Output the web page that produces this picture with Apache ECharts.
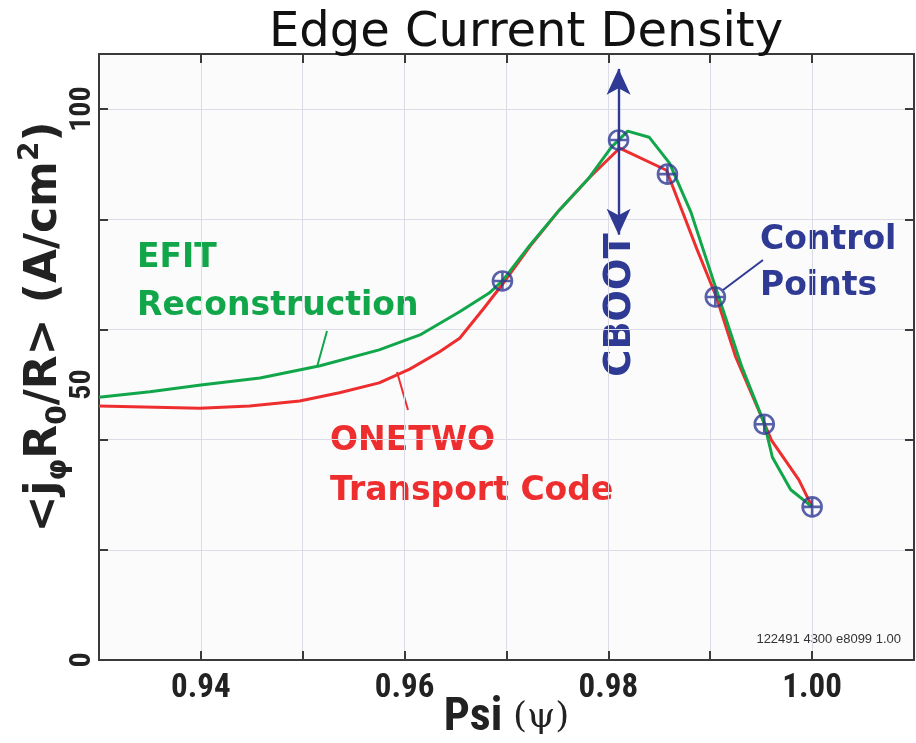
<!DOCTYPE html>
<html>
<head>
<meta charset="utf-8">
<script src="https://cdn.jsdelivr.net/npm/echarts@6/dist/echarts.min.js"></script>
<style>
  html, body { margin: 0; padding: 0; background: #ffffff; }
  #chart { width: 916px; height: 743px; }
</style>
</head>
<body>
<div id="chart"></div>
<script>
// Edge current density profiles versus normalized poloidal flux
const efitPsi = [0.9300, 0.9350, 0.9400, 0.9458, 0.9517, 0.9575, 0.9615, 0.9654, 0.9683, 0.9696, 0.9723, 0.9752, 0.9781, 0.9803, 0.9819, 0.9840, 0.9860, 0.9881, 0.9906, 0.9931, 0.9953, 0.9961, 0.9979, 1.0000];
const efitJ   = [47.7, 48.7, 49.9, 51.2, 53.4, 56.3, 59.0, 63.2, 66.6, 68.8, 75.3, 81.7, 87.5, 93.1, 96.0, 94.9, 90.2, 81.3, 67.2, 53.2, 43.0, 36.8, 30.9, 27.8];

const onetwoPsi = [0.9300, 0.9399, 0.9448, 0.9497, 0.9536, 0.9575, 0.9605, 0.9634, 0.9654, 0.9678, 0.9696, 0.9723, 0.9752, 0.9781, 0.9811, 0.9857, 0.9886, 0.9906, 0.9925, 0.9953, 0.9960, 0.9987, 1.0000];
const onetwoJ   = [46.1, 45.7, 46.1, 47.0, 48.5, 50.3, 52.8, 55.9, 58.4, 63.9, 68.2, 75.1, 81.7, 87.5, 92.9, 88.9, 75.0, 65.9, 55.0, 43.0, 39.9, 32.7, 27.8];

const controlPsi = [0.9696, 0.9810, 0.9858, 0.9905, 0.9953, 1.0000];
const controlJ   = [68.8, 94.4, 88.2, 65.9, 42.8, 27.8];

// CBOOT adjustment range at the second control point
const cbootPsi = 0.9810;
const cbootRange = [77.2, 107.3];

const xTickLabels = ['0.94', '0.96', '0.98', '1.00'];
const yTickLabels = ['0', '50', '100'];

const BLUE = '#2e3a94';
const GREEN = '#12a64a';
const RED = '#ee2e2e';
const AXIS = '#3a3a3a';
const GRIDC = '#dcdce6';
const BOLD = 'DejaVu Sans';
const NARROW = '"Liberation Sans Narrow", "Roboto Condensed", Roboto, sans-serif';

const pairs = (xs, ys) => xs.map((x, i) => [x, ys[i]]);

const chart = echarts.init(document.getElementById('chart'), null, { renderer: 'canvas' });

const markerPath = 'path://M0,10 A10,10 0 1,1 20,10 A10,10 0 1,1 0,10 Z M10,0 L10,20 M0,10 L20,10';

const option = {
  backgroundColor: '#ffffff',
  animation: false,
  title: {
    text: 'Edge Current Density',
    left: 264,
    top: 5,
    textStyle: { fontFamily: BOLD, fontSize: 48, fontWeight: 'normal', color: '#111' }
  },
  grid: {
    left: 99, right: 2, top: 54, bottom: 83,
    containLabel: false,
    outerBoundsMode: 'none',
    show: true, backgroundColor: '#fbfbfc', borderWidth: 0
  },
  xAxis: [
    {
      type: 'value', min: 0.93, max: 1.01, interval: 0.01, position: 'bottom',
      axisLine: { show: true, onZero: false, lineStyle: { color: AXIS, width: 2 } },
      axisTick: { show: true, inside: true, length: 9, lineStyle: { color: AXIS, width: 2 } },
      splitLine: { show: true, lineStyle: { color: GRIDC, width: 1 } },
      axisLabel: {
        margin: 12,
        fontFamily: NARROW, fontWeight: 'bold', fontSize: 33, color: '#222',
        showMinLabel: false, showMaxLabel: false,
        formatter: v => {
          const s = v.toFixed(2);
          return xTickLabels.indexOf(s) >= 0 ? s : '';
        }
      },
      name: '{b|Psi }{g|(ψ)}',
      nameLocation: 'middle',
      nameGap: 37,
      nameMoveOverlap: false,
      nameTextStyle: {
        rich: {
          b: { fontFamily: NARROW, fontWeight: 'bold', fontSize: 46, lineHeight: 42, color: '#222' },
          g: { fontFamily: '"DejaVu Serif", serif', fontSize: 36, lineHeight: 42, color: '#222' }
        }
      }
    },
    {
      type: 'value', min: 0.93, max: 1.01, interval: 0.01, position: 'top',
      axisLine: { show: true, onZero: false, lineStyle: { color: AXIS, width: 2 } },
      axisTick: { show: true, inside: true, length: 9, lineStyle: { color: AXIS, width: 2 } },
      splitLine: { show: false },
      axisLabel: { show: false }
    }
  ],
  yAxis: [
    {
      type: 'value', min: 0, max: 110, interval: 20, position: 'left',
      axisLine: { show: true, onZero: false, lineStyle: { color: AXIS, width: 2 } },
      axisTick: { show: true, inside: true, length: 9, lineStyle: { color: AXIS, width: 2 } },
      splitLine: { show: true, lineStyle: { color: GRIDC, width: 1 } },
      axisLabel: { show: false }
    },
    {
      type: 'value', min: 0, max: 110, interval: 50, position: 'left',
      axisLine: { show: false }, axisTick: { show: false }, splitLine: { show: false },
      axisLabel: {
        rotate: 90, margin: 2,
        fontFamily: NARROW, fontWeight: 'bold', fontSize: 30, color: '#222',
        showMaxLabel: false,
        formatter: v => (yTickLabels.indexOf(String(v)) >= 0 ? String(v) : '')
      }
    },
    {
      type: 'value', min: 0, max: 110, interval: 20, position: 'right',
      axisLine: { show: true, onZero: false, lineStyle: { color: AXIS, width: 2 } },
      axisTick: { show: true, inside: true, length: 9, lineStyle: { color: AXIS, width: 2 } },
      splitLine: { show: false },
      axisLabel: { show: false }
    }
  ],
  series: [
    {
      name: 'ONETWO', type: 'line', data: pairs(onetwoPsi, onetwoJ),
      showSymbol: false, lineStyle: { color: RED, width: 3 }, z: 3
    },
    {
      name: 'EFIT', type: 'line', data: pairs(efitPsi, efitJ),
      showSymbol: false, lineStyle: { color: GREEN, width: 3 }, z: 4
    },
    {
      name: 'Control Points', type: 'scatter', data: pairs(controlPsi, controlJ),
      symbol: markerPath, symbolSize: 19,
      itemStyle: { color: 'rgba(0,0,0,0)', borderColor: BLUE, borderWidth: 2.6 },
      z: 6,
      markLine: {
        silent: true,
        symbol: ['arrow', 'arrow'],
        symbolSize: [18, 26],
        label: { show: false },
        lineStyle: { color: BLUE, width: 2.4, type: 'solid' },
        data: [[{ coord: [cbootPsi, cbootRange[1]] }, { coord: [cbootPsi, cbootRange[0]] }]]
      }
    }
  ],
  graphic: [
    {
      type: 'text', x: 45, y: 327, rotation: Math.PI / 2,
      style: {
        text: '{a|<j}{s|φ}{a|R}{s|0}{a|/R> (A/cm}{p|2}{a|)}',
        align: 'center', verticalAlign: 'middle',
        rich: {
          a: { fontFamily: BOLD, fontWeight: 'bold', fontSize: 44, lineHeight: 56, fill: '#222' },
          s: { fontFamily: BOLD, fontWeight: 'bold', fontSize: 28, lineHeight: 28, verticalAlign: 'bottom', fill: '#222' },
          p: { fontFamily: BOLD, fontWeight: 'bold', fontSize: 28, lineHeight: 28, verticalAlign: 'top', fill: '#222' }
        }
      }
    },
    {
      type: 'text', x: 137, y: 234,
      style: { text: 'EFIT\nReconstruction', fontFamily: BOLD, fontWeight: 'bold', fontSize: 33, lineHeight: 48, fill: GREEN }
    },
    { type: 'line', shape: { x1: 327, y1: 331, x2: 317, y2: 367 }, style: { stroke: GREEN, lineWidth: 2 } },
    {
      type: 'text', x: 330, y: 416,
      style: { text: 'ONETWO\nTransport Code', fontFamily: BOLD, fontWeight: 'bold', fontSize: 33, lineHeight: 50, fill: RED }
    },
    { type: 'line', shape: { x1: 397, y1: 372, x2: 408, y2: 410 }, style: { stroke: RED, lineWidth: 2 } },
    {
      type: 'text', x: 760, y: 217,
      style: { text: 'Control\nPoints', fontFamily: BOLD, fontWeight: 'bold', fontSize: 33, lineHeight: 46, fill: BLUE }
    },
    { type: 'line', shape: { x1: 723, y1: 290, x2: 763, y2: 260 }, style: { stroke: BLUE, lineWidth: 2 } },
    {
      type: 'text', x: 620, y: 305, rotation: Math.PI / 2,
      style: { text: 'CBOOT', align: 'center', verticalAlign: 'middle', fontFamily: BOLD, fontWeight: 'bold', fontSize: 37, fill: BLUE }
    },
    {
      type: 'text', x: 901, y: 639,
      style: { text: '122491 4300 e8099 1.00', align: 'right', verticalAlign: 'middle', fontFamily: '"Liberation Sans", sans-serif', fontSize: 13, fill: '#333' }
    }
  ]
};

chart.setOption(option);
</script>
</body>
</html>
